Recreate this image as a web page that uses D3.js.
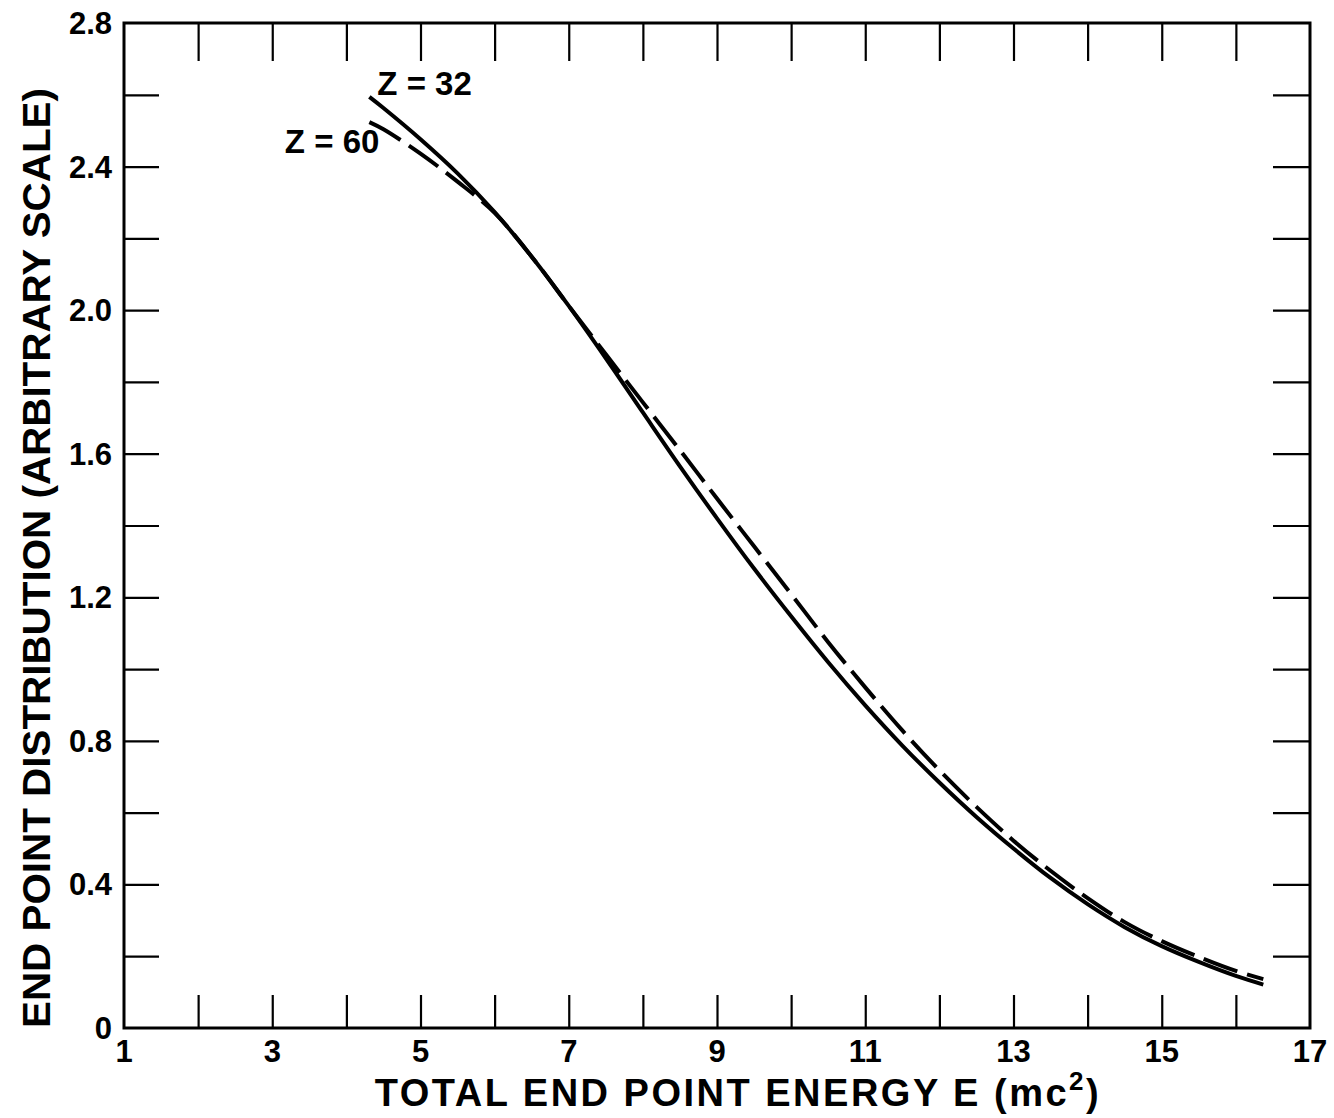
<!DOCTYPE html>
<html><head><meta charset="utf-8">
<script src="https://cdn.jsdelivr.net/npm/d3@7"></script>
<style>body{margin:0;background:#fff}svg{display:block}</style></head>
<body>
<svg id="chart" width="1334" height="1118"></svg>
<script>
// ---- data ----
const xDomain = [1, 17];
const yDomain = [0, 2.8];
const xTickLabels = [1, 3, 5, 7, 9, 11, 13, 15, 17];
const xMinorTicks = [2, 3, 4, 5, 6, 7, 8, 9, 10, 11, 12, 13, 14, 15, 16];
const yTickLabels = [0, 0.4, 0.8, 1.2, 1.6, 2.0, 2.4, 2.8];
const yMinorTicks = [0.2, 0.4, 0.6, 0.8, 1.0, 1.2, 1.4, 1.6, 1.8, 2.0, 2.2, 2.4, 2.6];

const energy = [4.31, 4.5, 5.0, 5.5, 6.0, 6.5, 7.0, 7.5, 8.0, 8.5, 9.0, 9.5, 10.0, 10.5, 11.0, 11.5, 12.0, 12.5, 13.0, 13.5, 14.0, 14.5, 15.0, 15.5, 16.0, 16.37];
const z32Dist = [2.594, 2.563, 2.476, 2.381, 2.273, 2.149, 2.012, 1.866, 1.715, 1.565, 1.420, 1.280, 1.147, 1.019, 0.899, 0.787, 0.684, 0.588, 0.500, 0.418, 0.345, 0.281, 0.228, 0.184, 0.145, 0.121];
const z60Dist = [2.524, 2.504, 2.436, 2.358, 2.271, 2.149, 2.012, 1.877, 1.743, 1.610, 1.475, 1.342, 1.209, 1.075, 0.949, 0.829, 0.718, 0.616, 0.522, 0.438, 0.362, 0.295, 0.242, 0.198, 0.159, 0.136];

const seriesLabels = ["Z = 32", "Z = 60"];
const xTitle = "TOTAL END POINT ENERGY E (mc";
const xTitleSup = "2";
const yTitle = "END POINT DISTRIBUTION (ARBITRARY SCALE)";

// ---- layout ----
const pLeft = 124, pRight = 1310, pTop = 23, pBottom = 1028;
const svg = d3.select("#chart");
const font = "'Liberation Sans', Arial, sans-serif";

const x = d3.scaleLinear().domain(xDomain).range([pLeft, pRight]);
const y = d3.scaleLinear().domain(yDomain).range([pBottom, pTop]);

// frame
svg.append("rect").attr("x", pLeft).attr("y", pTop)
  .attr("width", pRight - pLeft).attr("height", pBottom - pTop)
  .attr("fill", "none").attr("stroke", "#000").attr("stroke-width", 3);

// ticks (inward) via axes
const gB = svg.append("g").attr("transform", `translate(0,${pBottom})`)
  .call(d3.axisTop(x).tickValues(xMinorTicks).tickSize(33).tickFormat(""));
const gT = svg.append("g").attr("transform", `translate(0,${pTop})`)
  .call(d3.axisBottom(x).tickValues(xMinorTicks).tickSize(38).tickFormat(""));
const gL = svg.append("g").attr("transform", `translate(${pLeft},0)`)
  .call(d3.axisRight(y).tickValues(yMinorTicks).tickSize(35).tickFormat(""));
const gR = svg.append("g").attr("transform", `translate(${pRight},0)`)
  .call(d3.axisLeft(y).tickValues(yMinorTicks).tickSize(37).tickFormat(""));
[gB, gT, gL, gR].forEach(g => {
  g.select(".domain").remove();
  g.selectAll(".tick line").attr("stroke", "#000").attr("stroke-width", 2.2);
});

// tick labels
svg.append("g").selectAll("text").data(xTickLabels).join("text")
  .attr("x", d => x(d)).attr("y", 1062)
  .attr("text-anchor", "middle")
  .attr("font-family", font).attr("font-weight", "bold").attr("font-size", 31)
  .text(d => d);
svg.append("g").selectAll("text").data(yTickLabels).join("text")
  .attr("x", 112).attr("y", d => y(d) + 11)
  .attr("text-anchor", "end")
  .attr("font-family", font).attr("font-weight", "bold").attr("font-size", 31)
  .text(d => d === 0 ? "0" : d.toFixed(1));

// curves
const line = d3.line().x(d => x(d[0])).y(d => y(d[1])).curve(d3.curveCatmullRom.alpha(0.5));
const z32 = energy.map((e, i) => [e, z32Dist[i]]);
const z60 = energy.map((e, i) => [e, z60Dist[i]]);

svg.append("path").datum(z32).attr("d", line)
  .attr("fill", "none").attr("stroke", "#000").attr("stroke-width", 4);
svg.append("path").datum(z60).attr("d", line)
  .attr("fill", "none").attr("stroke", "#000").attr("stroke-width", 4)
  .attr("stroke-dasharray", "36 10");

// series labels
svg.append("text").attr("x", x(energy[0]) + 8).attr("y", y(z32Dist[0]) - 2)
  .attr("font-family", font).attr("font-weight", "bold").attr("font-size", 33)
  .text(seriesLabels[0]);
svg.append("text").attr("x", x(energy[0]) + 10).attr("y", y(z60Dist[0]) + 31)
  .attr("text-anchor", "end")
  .attr("font-family", font).attr("font-weight", "bold").attr("font-size", 33)
  .text(seriesLabels[1]);

// axis titles
const xt = svg.append("text").attr("x", 738).attr("y", 1106)
  .attr("text-anchor", "middle").attr("letter-spacing", 2.5)
  .attr("font-family", font).attr("font-weight", "bold").attr("font-size", 38);
xt.append("tspan").text(xTitle);
xt.append("tspan").attr("dy", -16).attr("font-size", 26).text(xTitleSup);
xt.append("tspan").attr("dy", 16).text(")");

svg.append("text")
  .attr("transform", "translate(50,558) rotate(-90)")
  .attr("text-anchor", "middle")
  .attr("font-family", font).attr("font-weight", "bold").attr("font-size", 38)
  .attr("textLength", 940).attr("lengthAdjust", "spacingAndGlyphs")
  .text(yTitle);
</script>
</body></html>
